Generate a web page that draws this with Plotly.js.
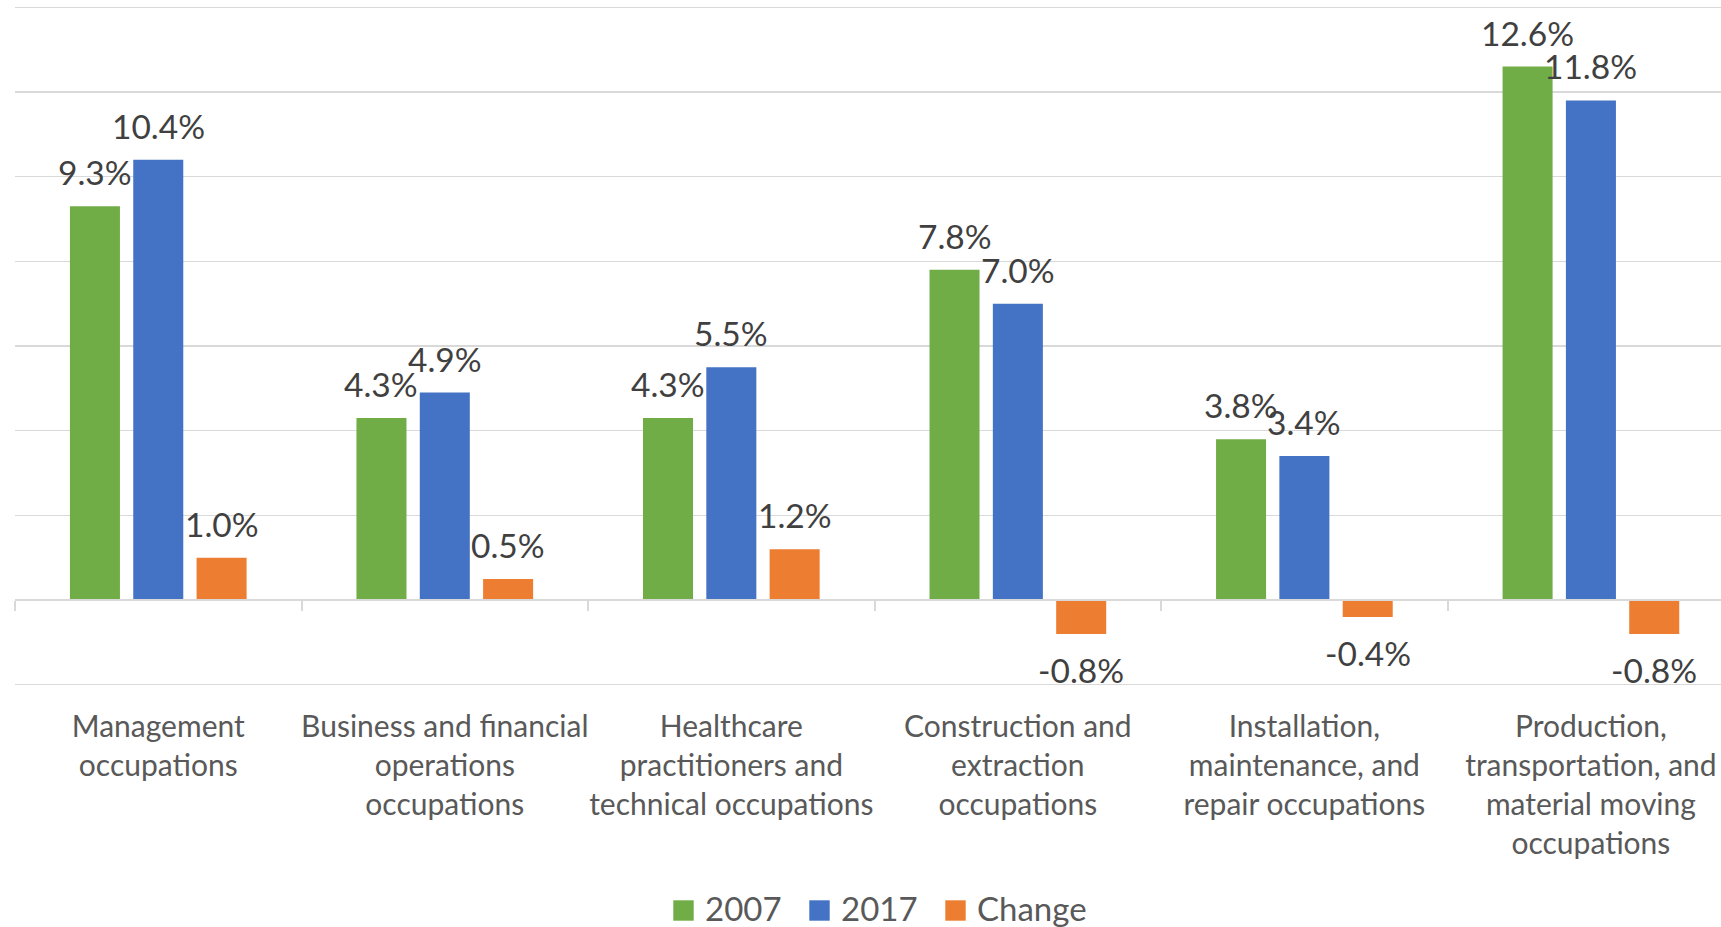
<!DOCTYPE html>
<html>
<head>
<meta charset="utf-8">
<script src="https://cdn.plot.ly/plotly-3.0.1.min.js"></script>
<style>
  html, body { margin: 0; padding: 0; background: #ffffff; }
  #chart { width: 1721px; height: 927px; }
</style>
</head>
<body>
<div id="chart"></div>
<script>
// ---- data ----
const categories = [
  "Management<br>occupations",
  "Business and financial<br>operations<br>occupations",
  "Healthcare<br>practitioners and<br>technical occupations",
  "Construction and<br>extraction<br>occupations",
  "Installation,<br>maintenance, and<br>repair occupations",
  "Production,<br>transportation, and<br>material moving<br>occupations"
];
const seriesNames = ["2007", "2017", "Change"];
const values2007 = [9.3, 4.3, 4.3, 7.8, 3.8, 12.6];
const values2017 = [10.4, 4.9, 5.5, 7.0, 3.4, 11.8];
const valuesChange = [1.0, 0.5, 1.2, -0.8, -0.4, -0.8];
const seriesColors = ["#70AD47", "#4472C4", "#ED7D31"];

// ---- layout parameters ----
const W = 1721, H = 927;
const margin = {l: 15, r: 0, t: 6, b: 241, pad: 0, autoexpand: false};
const xRange = [-0.5, 5.454];
const yRange = [-2.03, 14.03];
const bargap = 0.337;
const bargroupgap = 0.21;
const fontFamily = "Lato, 'Open Sans', sans-serif";
const labelFont = {family: fontFamily, size: 33.5, color: "#404040"};
const legendFont = {family: fontFamily, size: 33, color: "#595959"};

const allSeries = [values2007, values2017, valuesChange];

const traces = allSeries.map((vals, i) => ({
  type: "bar",
  name: seriesNames[i],
  x: categories,
  y: vals,
  marker: {color: seriesColors[i]},
  hoverinfo: "skip",
  showlegend: false
}));

const plotW = W - margin.l - margin.r;
const plotH = H - margin.t - margin.b;
const catPx = plotW / (xRange[1] - xRange[0]);
const slotPx = catPx * (1 - bargap) / allSeries.length;

// data labels anchored at each bar's value
const annotations = [];
allSeries.forEach((vals, i) => {
  const off = (i - (allSeries.length - 1) / 2) * slotPx;
  vals.forEach((v, j) => {
    annotations.push({
      x: categories[j],
      y: v,
      xref: "x",
      yref: "y",
      text: v.toFixed(1) + "%",
      showarrow: false,
      xshift: off,
      yanchor: v >= 0 ? "bottom" : "top",
      yshift: v >= 0 ? 12 : -14,
      font: labelFont
    });
  });
});

// legend (square swatches + names), placed below the plot
const legendCx0 = 683.5, legendPitch = 136, legendCy = 910.5, swatch = 20.4, textGap = 20.5;
const pxToPaperX = px => (px - margin.l) / plotW;
const pxToPaperY = py => (H - margin.b - py) / plotH;
const shapes = [];
seriesNames.forEach((name, i) => {
  const cx = legendCx0 + i * legendPitch;
  shapes.push({
    type: "rect", xref: "paper", yref: "paper",
    x0: pxToPaperX(cx - swatch / 2), x1: pxToPaperX(cx + swatch / 2),
    y0: pxToPaperY(legendCy + swatch / 2), y1: pxToPaperY(legendCy - swatch / 2),
    fillcolor: seriesColors[i], line: {width: 0}
  });
  annotations.push({
    xref: "paper", yref: "paper",
    x: pxToPaperX(cx + textGap), y: pxToPaperY(legendCy - 2.5),
    xanchor: "left", yanchor: "middle",
    text: name, showarrow: false, borderpad: 0,
    font: legendFont
  });
});

const layout = {
  width: W,
  height: H,
  margin: margin,
  paper_bgcolor: "#ffffff",
  plot_bgcolor: "#ffffff",
  barmode: "group",
  bargap: bargap,
  bargroupgap: bargroupgap,
  showlegend: false,
  xaxis: {
    type: "category",
    range: xRange,
    anchor: "free",
    position: (0 - yRange[0]) / (yRange[1] - yRange[0]),
    showline: true,
    linecolor: "#d9d9d9",
    linewidth: 2,
    ticks: "outside",
    tickson: "boundaries",
    ticklen: 10,
    tickwidth: 2,
    tickcolor: "#d9d9d9",
    tickangle: 0,
    ticklabelstandoff: 100,
    tickfont: {family: fontFamily, size: 30, color: "#595959"},
    showgrid: false,
    zeroline: false,
    fixedrange: true
  },
  yaxis: {
    range: yRange,
    dtick: 2,
    tick0: 0,
    showgrid: true,
    gridcolor: "#d9d9d9",
    gridwidth: 1.5,
    zeroline: false,
    showticklabels: false,
    ticks: "",
    showline: false,
    fixedrange: true
  },
  shapes: shapes,
  annotations: annotations
};

Plotly.newPlot("chart", traces, layout, {displayModeBar: false, staticPlot: true});
</script>
</body>
</html>
